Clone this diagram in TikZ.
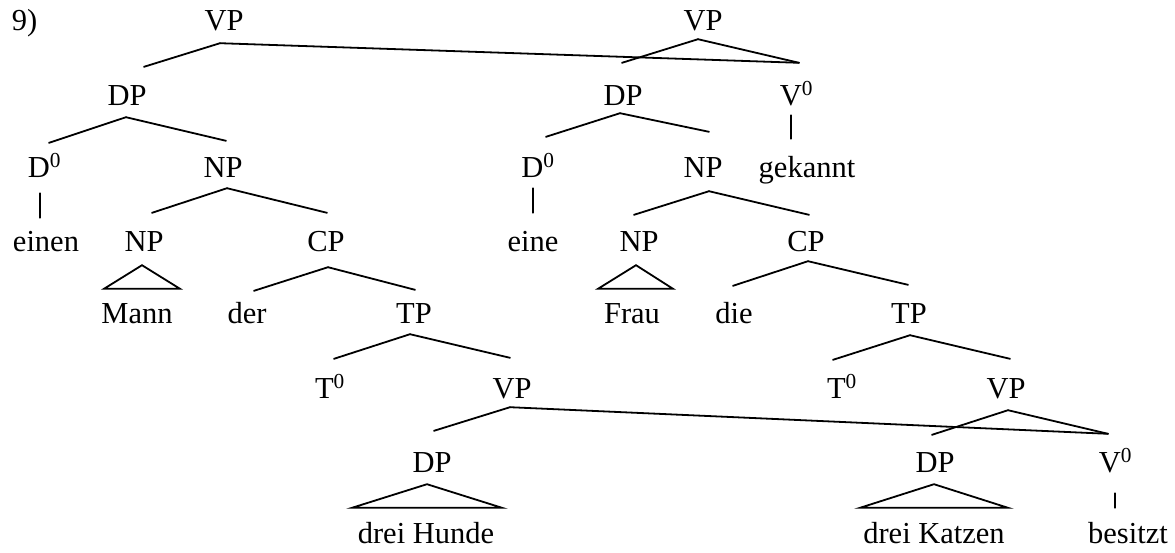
\documentclass[tikz,border=0pt]{standalone}
\usepackage{fontspec}
\setmainfont{Liberation Serif}
\begin{document}
\begin{tikzpicture}[x=1pt,y=-1pt,
  lbl/.style={anchor=base,inner xsep=0pt,inner ysep=13pt,text height=25pt,text depth=0pt,
    font=\fontsize{30.5}{36}\selectfont},
  edge/.style={draw,line width=1.8pt,line cap=round,line join=miter}]
\useasboundingbox (0,0) rectangle (1175,552);
% number
\node[lbl] (num) at (24.5,30) {9)};
% left tree
\node[lbl] (vpL) at (224,30) {VP};
\node[lbl] (dpL) at (127,105) {DP};
\node[lbl] (d0L) at (44.5,177) {D\textsuperscript{0}};
\node[lbl] (npL) at (223,177) {NP};
\node[lbl] (einen) at (46,251) {einen};
\node[lbl] (npLi) at (144,251) {NP};
\node[lbl] (cpL) at (326,251) {CP};
\node[lbl] (mann) at (137,323) {Mann};
\node[lbl] (der) at (247,323) {der};
\node[lbl] (tpL) at (414,323) {TP};
\node[lbl] (t0L) at (330,398) {T\textsuperscript{0}};
\node[lbl] (vpLl) at (512,398) {VP};
\node[lbl] (dpLl) at (432,472) {DP};
\node[lbl] (hunde) at (426,543) {drei Hunde};
% right tree
\node[lbl] (vpR) at (703,30) {VP};
\node[lbl] (dpR) at (623,105) {DP};
\node[lbl] (v0R) at (796.5,105) {V\textsuperscript{0}};
\node[lbl] (d0R) at (538,177) {D\textsuperscript{0}};
\node[lbl] (npR) at (703,177) {NP};
\node[lbl] (gekannt) at (807,177) {gekannt};
\node[lbl] (eine) at (533,251) {eine};
\node[lbl] (npRi) at (639,251) {NP};
\node[lbl] (cpR) at (806,251) {CP};
\node[lbl] (frau) at (632,323) {Frau};
\node[lbl] (die) at (734,323) {die};
\node[lbl] (tpR) at (909,323) {TP};
\node[lbl] (t0R) at (842,398) {T\textsuperscript{0}};
\node[lbl] (vpRl) at (1006,398) {VP};
\node[lbl] (dpRl) at (935,472) {DP};
\node[lbl] (v0Rl) at (1115.5,472) {V\textsuperscript{0}};
\node[lbl] (katzen) at (934,543) {drei Katzen};
\node[lbl] (besitzt) at (1128,543) {besitzt};
% left tree edges
\draw[edge] ([xshift=-4pt]vpL.south) -- ([xshift=17pt]dpL.north);
\draw[edge] ([xshift=-4pt]vpL.south) -- ([xshift=2.5pt,yshift=4pt]v0R.north);
\draw[edge] ([xshift=-1pt,yshift=1pt]dpL.south) -- ([xshift=4.5pt,yshift=-4pt]d0L.north);
\draw[edge] ([xshift=-1pt,yshift=1pt]dpL.south) -- ([xshift=3pt,yshift=-2pt]npL.north);
\draw[edge] ([xshift=-4.5pt,yshift=-3pt]d0L.south) -- ([xshift=-6pt,yshift=-5pt]einen.north);
\draw[edge] ([xshift=4pt,yshift=2pt]npL.south) -- ([xshift=8pt]npLi.north);
\draw[edge] ([xshift=4pt,yshift=2pt]npL.south) -- ([xshift=1pt]cpL.north);
\draw[edge] ([xshift=-2pt,yshift=-1pt]npLi.south) -- ([xshift=-33pt,yshift=-4pt]mann.north)
  -- ([xshift=43pt,yshift=-4pt]mann.north) -- cycle;
\draw[edge] ([xshift=2pt,yshift=-3pt]cpL.south) -- ([xshift=7pt,yshift=-6pt]der.north);
\draw[edge] ([xshift=2pt,yshift=-3pt]cpL.south) -- ([xshift=1pt,yshift=-5pt]tpL.north);
\draw[edge] ([xshift=-4pt,yshift=2pt]tpL.south) -- ([xshift=4pt,yshift=1pt]t0L.north);
\draw[edge] ([xshift=-4pt,yshift=2pt]tpL.south) -- ([xshift=-2pt,yshift=2pt]vpLl.north);
\draw[edge] ([xshift=-2pt,yshift=4pt]vpLl.south) -- ([xshift=2pt,yshift=3pt]dpLl.north);
\draw[edge] ([xshift=-2pt,yshift=4pt]vpLl.south) -- ([xshift=-7.5pt]v0Rl.north);
\draw[edge] ([xshift=-5pt,yshift=1pt]dpLl.south) -- ([xshift=-74pt,yshift=-3pt]hunde.north)
  -- ([xshift=76pt,yshift=-3pt]hunde.north) -- cycle;
% right tree edges
\draw[edge] ([xshift=-5pt,yshift=4pt]vpR.south) -- ([xshift=-1pt,yshift=4pt]dpR.north);
\draw[edge] ([xshift=-5pt,yshift=4pt]vpR.south) -- ([xshift=2.5pt,yshift=4pt]v0R.north);
\draw[edge] ([xshift=-3pt,yshift=5pt]dpR.south) -- ([xshift=8pt,yshift=2pt]d0R.north);
\draw[edge] ([xshift=-3pt,yshift=5pt]dpR.south) -- ([xshift=6pt,yshift=7pt]npR.north);
\draw[edge] ([xshift=-5.5pt,yshift=3pt]v0R.south) -- ([xshift=-16pt]gekannt.north);
\draw[edge] ([xshift=-5pt,yshift=2pt]d0R.south) -- (eine.north);
\draw[edge] ([xshift=6pt,yshift=-1pt]npR.south) -- ([xshift=-5pt,yshift=-2pt]npRi.north);
\draw[edge] ([xshift=6pt,yshift=-1pt]npR.south) -- ([xshift=3pt,yshift=-2pt]cpR.north);
\draw[edge] ([xshift=-3pt,yshift=-1pt]npRi.south) -- ([xshift=-34pt,yshift=-4pt]frau.north)
  -- ([xshift=41pt,yshift=-4pt]frau.north) -- cycle;
\draw[edge] ([xshift=2pt,yshift=3pt]cpR.south) -- ([xshift=-1pt,yshift=-1pt]die.north);
\draw[edge] ([xshift=2pt,yshift=3pt]cpR.south) -- ([xshift=-1pt]tpR.north);
\draw[edge] ([xshift=1pt,yshift=1pt]tpR.south) -- ([xshift=-9pt]t0R.north);
\draw[edge] ([xshift=1pt,yshift=1pt]tpR.south) -- ([xshift=4pt,yshift=1pt]vpRl.north);
\draw[edge] ([xshift=2pt,yshift=1pt]vpRl.south) -- ([xshift=-3pt,yshift=-1pt]dpRl.north);
\draw[edge] ([xshift=2pt,yshift=1pt]vpRl.south) -- ([xshift=-7.5pt]v0Rl.north);
\draw[edge] ([xshift=-0.5pt,yshift=-8pt]v0Rl.south) -- ([xshift=-13pt,yshift=-3pt]besitzt.north);
\draw[edge] ([xshift=-1pt,yshift=1pt]dpRl.south) -- ([xshift=-74pt,yshift=-3pt]katzen.north)
  -- ([xshift=74pt,yshift=-3pt]katzen.north) -- cycle;
\end{tikzpicture}
\end{document}
